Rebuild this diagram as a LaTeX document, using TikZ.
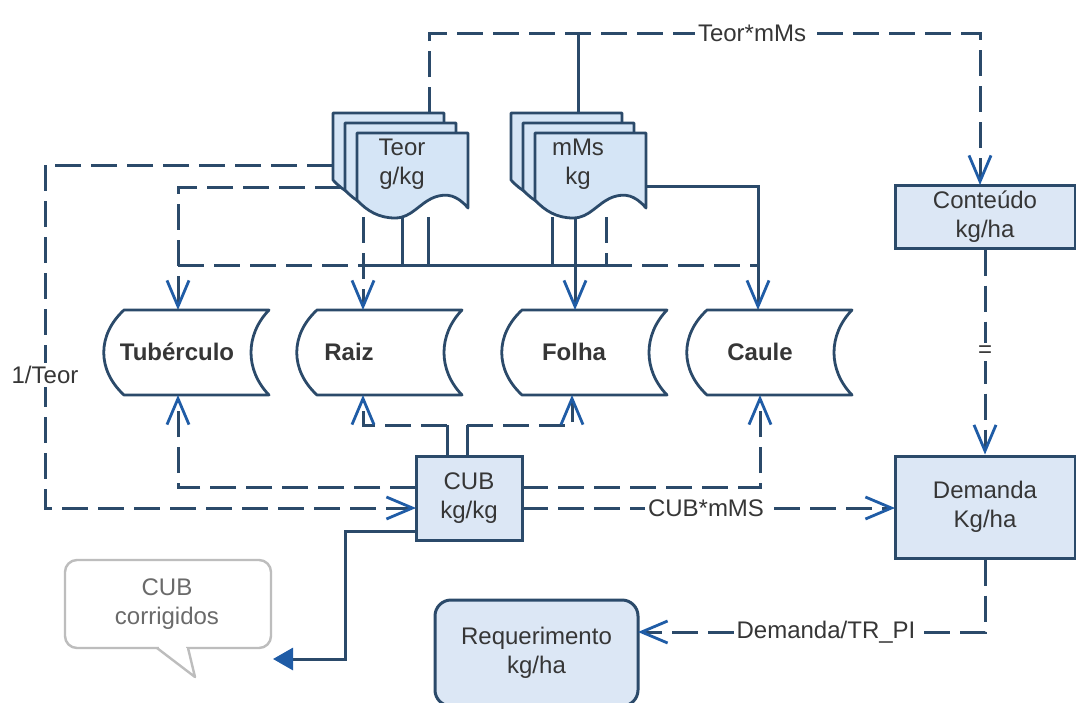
\documentclass[tikz,border=0pt]{standalone}
\usepackage{fontspec}
\setmainfont{Liberation Sans}
\usetikzlibrary{arrows.meta}
\definecolor{linec}{HTML}{2B4A6A}
\definecolor{arrowc}{HTML}{1F5CA6}
\definecolor{boxfill}{HTML}{DCE7F5}
\definecolor{docfill}{HTML}{D5E5F6}
\definecolor{textc}{HTML}{363636}
\definecolor{callc}{HTML}{BDBDBD}
\definecolor{calltext}{HTML}{6A6A6A}
\newcommand\fsz{\fontsize{24}{29}\selectfont}
\tikzset{
 conn/.style={draw=linec, line width=3pt},
 dashln/.style={conn, dash pattern=on 26pt off 10pt},
 arr/.style={-{Straight Barb[length=26pt,width=22pt,line width=2.8pt,color=arrowc]}},
 box/.style={draw=linec, fill=boxfill, line width=3pt, text=textc, align=center, font=\fsz},
 lbl/.style={fill=white, text=textc, font=\fsz, inner sep=3pt},
 storetext/.style={text=textc, font=\fsz\bfseries},
 doctext/.style={text=textc, font=\fsz, align=center},
 docpage/.pic={\path[draw=linec, fill=docfill, line width=2.8pt, line join=round]
   (0,0) -- (111,0) -- (111,75) .. controls (100,62) and (90,60) .. (78,64)
   .. controls (62,70) and (55,85) .. (38,85) .. controls (22,85) and (10,78) .. (0,67) -- cycle;},
 storeshape/.pic={\path[draw=linec, fill=white, line width=2.8pt, line join=round]
   (0,0) -- (145,0) .. controls (121,25) and (121,60) .. (145,85) -- (0,85)
   .. controls (-27,60) and (-27,25) .. (0,0) -- cycle;},
}
\begin{document}
\begin{tikzpicture}[x=1pt,y=-1pt]
\useasboundingbox (0,0) rectangle (1076,702);
\fill[white] (0,0) rectangle (1076,702);

% boxes
\node[box, minimum width=180pt, minimum height=63pt] (conteudo) at (985,216.5) {Conteúdo\\kg/ha};
\node[box, minimum width=106pt, minimum height=84pt] (cub) at (469,498) {CUB\\kg/kg};
\node[box, minimum width=180pt, minimum height=102pt] (demanda) at (985,507) {Demanda\\Kg/ha};
\node[box, rounded corners=16pt, minimum width=203pt, minimum height=106pt] (req) at (536.5,653) {Requerimento\\kg/ha};

% named points
\coordinate (teorTop) at (429,113);
\coordinate (mmsTop) at (578,113);
\coordinate (teorL1) at (333,165);
\coordinate (teorL2) at (341,187);
\coordinate (mmsR) at (646,186);
\coordinate (topL) at (429,33);
\coordinate (topR) at (980,33);
\coordinate (mmsUp) at (578,33);
\coordinate (contIn) at (980,185);
\coordinate (lftT) at (45,165);
\coordinate (lftB) at (45,508);
\coordinate (cubIn) at (416,508);

% lines that start behind the document stacks
\draw[dashln,arr] (teorL1) -- (lftT) -- (lftB) -- (cubIn);
\node[lbl] (lteor) at (45,375) {1/Teor};
\draw[dashln,arr] (teorL2) -- (178,187) -- (178,310);
\draw[dashln,arr] (teorTop) -- (topL) -- (topR) -- (contIn);
\node[lbl] (ltm) at (752,33) {Teor*mMs};
\draw[conn] (mmsTop) -- (mmsUp);
\draw[conn,arr] (mmsR) -- (758,186) -- (758,310);

% document stacks
\pic at (333,113) {docpage};
\pic at (345,123) {docpage};
\pic at (357,133) {docpage};
\node[doctext] (teor) at (402,164) {Teor\\g/kg};
\pic at (511,113) {docpage};
\pic at (523,123) {docpage};
\pic at (535,133) {docpage};
\node[doctext] (mms) at (578,164) {mMs\\kg};

% storage shapes
\pic at (124,310) {storeshape};
\pic at (317,310) {storeshape};
\pic at (522,310) {storeshape};
\pic at (707,310) {storeshape};
\node[storetext] (tub) at (177,352) {Tubérculo};
\node[storetext] (raiz) at (349,352) {Raiz};
\node[storetext] (folha) at (574,352) {Folha};
\node[storetext] (caule) at (760,352) {Caule};

% distribution lines from the documents
\draw[dashln] (178,265) -- (363,265);
\draw[conn] (363,265) -- (606,265);
\draw[dashln] (606,265) -- (758,265);
\draw[dashln,arr] (363,217) -- (363,310);
\draw[conn] (402,217) -- (402,265);
\draw[conn] (428,217) -- (428,265);
\draw[conn] (552,217) -- (552,265);
\draw[conn,arr] (575,217) -- (575,310);
\draw[dashln] (606,217) -- (606,265);

% CUB to the storage shapes
\draw[dashln,arr] (416,487) -- (178,487) -- (178,395);
\draw[conn] (447,456) -- (447,425);
\draw[conn] (467,456) -- (467,425);
\draw[dashln,arr] (447,425) -- (363,425) -- (363,395);
\draw[dashln,arr] (467,425) -- (572,425) -- (572,395);
\draw[dashln,arr] (522,487) -- (760,487) -- (760,395);
\draw[dashln,arr] (522,508) -- (895,508);
\node[lbl] (lcm) at (706,508) {CUB*mMS};

% right column
\draw[dashln,arr] (conteudo.south) -- (demanda.north);
\node[lbl] (leq) at (985,352) {=};
\draw[dashln,arr] (demanda.south) -- (985,632) -- (638,632);
\node[lbl] (ldt) at (826,632) {Demanda/TR\_PI};

% callout
\draw[callc, line width=2.4pt, fill=white, rounded corners=12pt] (65,560) rectangle (271,648);
\fill[white] (159,645) rectangle (186,651);
\draw[callc, line width=2.4pt, fill=white, line join=round] (157,648) -- (195,677) -- (188,648);
\node[text=calltext, font=\fsz, align=center] (callout) at (167,604) {CUB\\corrigidos};
\draw[conn, -{Triangle[length=20pt,width=22pt,color=arrowc]}] (416,531) -- (345,531) -- (345,659) -- (273,659);
\end{tikzpicture}
\end{document}
